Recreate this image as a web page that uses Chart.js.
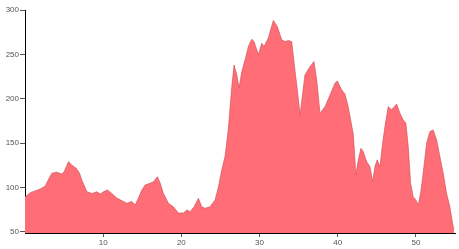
<!DOCTYPE html>
<html lang="en">
<head>
    <meta charset="UTF-8">
    <title>Area chart</title>
    <script src="https://cdn.jsdelivr.net/npm/chart.js"></script>
    <style>
        body {
            margin: 0;
            padding: 0;
            background: #fff;
        }
        canvas {
            display: block;
        }
    </style>
</head>
<body>
    <canvas id="areaChart" width="459" height="249"></canvas>

    <script>
        // data
        const xValues = [
            0, 0.67, 1.3, 1.95, 2.59, 3.01, 3.44, 4.08, 4.72, 5.02,
            5.57, 6.0, 6.55, 6.97, 7.28, 7.92, 8.56, 9.19, 9.62, 10.04,
            10.55, 11.11, 11.75, 12.17, 12.59, 13.03, 13.67, 14.09, 14.51, 14.95,
            15.37, 16.0, 16.43, 16.94, 17.28, 17.71, 18.35, 18.98, 19.62, 20.26,
            20.7, 21.12, 21.63, 22.18, 22.61, 23.04, 23.67, 24.31, 24.73, 25.17,
            25.59, 26.01, 26.45, 26.74, 27.09, 27.38, 27.73, 28.15, 28.57, 29.0,
            29.3, 29.85, 30.28, 30.58, 31.12, 31.76, 32.27, 32.84, 33.26, 33.68,
            34.11, 34.45, 34.83, 35.18, 35.47, 35.81, 36.45, 36.96, 37.31, 37.73,
            38.37, 39.01, 39.65, 39.94, 40.5, 40.93, 41.31, 41.57, 41.99, 42.33,
            42.63, 42.97, 43.26, 43.7, 44.12, 44.47, 44.76, 45.05, 45.4, 45.74,
            46.04, 46.46, 46.9, 47.53, 47.96, 48.38, 48.72, 49.02, 49.32, 49.65,
            50.0, 50.29, 50.6, 50.93, 51.37, 51.79, 52.21, 52.65, 53.07, 53.49,
            53.92, 54.34, 54.69, 54.86
        ];
        const yValues = [
            89, 94, 96, 98, 101.5, 109, 116, 117, 115, 118,
            129, 125, 121.5, 116, 108, 95, 93, 95, 92.5, 95,
            97, 93, 88, 86, 84, 82, 84, 80, 88, 97,
            102.7, 104.6, 106.4, 112, 105, 93, 82, 78, 71, 71,
            74.5, 72.6, 78, 87.7, 78, 76.4, 78, 85.8, 100, 119.6,
            135, 166, 213.6, 238, 227, 212, 230.6, 243.8, 258.8, 267,
            264.4, 249.4, 262.6, 258.8, 268.3, 288.2, 281.4, 266.4, 264.4, 265.6,
            264.4, 238, 210, 181.7, 202.4, 226.9, 236, 241.9, 221.2, 183.6,
            191, 204, 217.5, 220, 210, 205, 192, 180, 160, 114,
            131, 144, 140.3, 129, 123.4, 106.4, 123.4, 131, 123.4, 149.8,
            168.5, 191, 187.4, 194, 183.6, 176, 172.3, 146, 104.6, 89.5,
            85.8, 80, 93.3, 116, 149.8, 162.9, 164.8, 153.5, 134.6, 116,
            93.3, 78, 59.5, 52
        ];
        const xTicks = [10, 20, 30, 40, 50];
        const yTicks = [50, 100, 150, 200, 250, 300];

        const points = xValues.map((x, i) => ({ x: x, y: yValues[i] }));

        const ctx = document.getElementById('areaChart').getContext('2d');
        new Chart(ctx, {
            type: 'line',
            data: {
                datasets: [{
                    data: points,
                    fill: 'start',
                    backgroundColor: '#ff6e76',
                    borderColor: 'rgba(205, 70, 80, 0.6)',
                    borderWidth: 1,
                    pointRadius: 0,
                    tension: 0
                }]
            },
            options: {
                responsive: false,
                animation: false,
                devicePixelRatio: 1,
                layout: {
                    padding: { left: 0, right: 4, top: 10, bottom: 0 }
                },
                plugins: {
                    legend: { display: false },
                    tooltip: { enabled: false }
                },
                scales: {
                    x: {
                        type: 'linear',
                        min: 0,
                        max: 55,
                        afterBuildTicks: (scale) => {
                            scale.ticks = xTicks.map(v => ({ value: v }));
                        },
                        afterFit: (scale) => { scale.height = 16; },
                        border: { color: '#000', width: 1 },
                        grid: {
                            drawOnChartArea: false,
                            tickLength: 4,
                            color: '#555'
                        },
                        ticks: {
                            padding: 1,
                            maxRotation: 0,
                            color: '#555',
                            font: { family: 'Liberation Sans', size: 8 }
                        }
                    },
                    y: {
                        min: 48.5,
                        max: 300,
                        afterBuildTicks: (scale) => {
                            scale.ticks = yTicks.map(v => ({ value: v }));
                        },
                        afterFit: (scale) => { scale.width = 25; },
                        border: { color: '#000', width: 1 },
                        grid: {
                            drawOnChartArea: false,
                            tickLength: 5,
                            color: '#555'
                        },
                        ticks: {
                            padding: 1,
                            color: '#555',
                            font: { family: 'Liberation Sans', size: 8 }
                        }
                    }
                }
            }
        });
    </script>
</body>
</html>
